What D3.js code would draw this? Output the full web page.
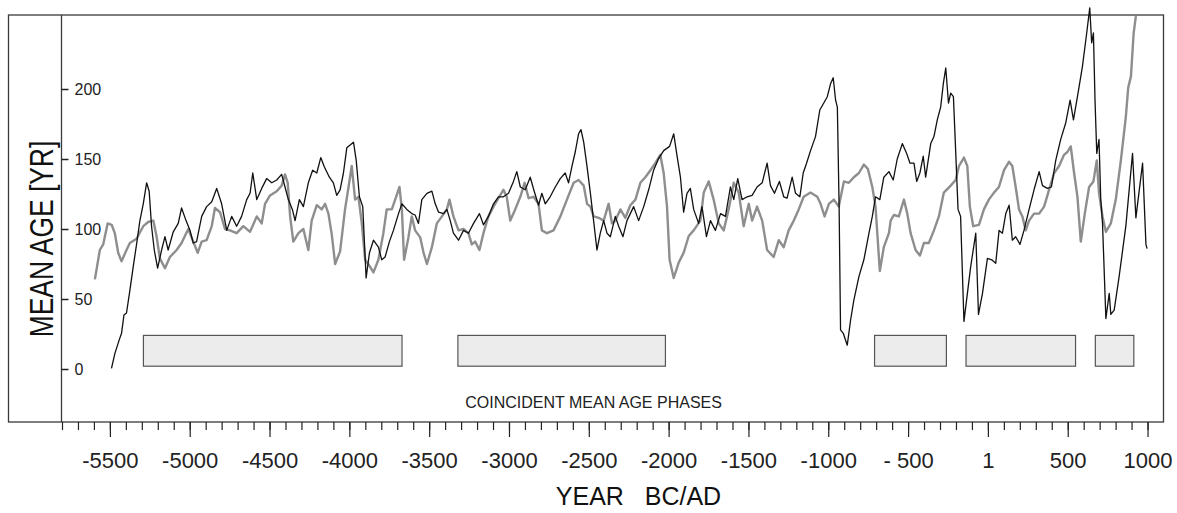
<!DOCTYPE html>
<html>
<head>
<meta charset="utf-8">
<script src="https://cdn.jsdelivr.net/npm/d3@7"></script>
<style>
  body { margin: 0; background: #fff; }
  svg { display: block; font-family: "Liberation Sans", Arial, sans-serif; }
</style>
</head>
<body>
<div id="chart"></div>
<script>
// Grey series (years BC/AD, mean age in years)
const grayYears = [-5594, -5563, -5542, -5514, -5489, -5469, -5448, -5427, -5396, -5375, -5333, -5291, -5260, -5228, -5208, -5187, -5155, -5124, -5082, -5051,
  -5009, -4978, -4950, -4925, -4894, -4862, -4842, -4810, -4779, -4748, -4706, -4664, -4622, -4580, -4549, -4528, -4497, -4455, -4424, -4403,
  -4386, -4371, -4351, -4319, -4288, -4257, -4236, -4204, -4173, -4152, -4131, -4110, -4089, -4058, -4027, -4005, -3985, -3964, -3943, -3922,
  -3901, -3870, -3849, -3818, -3787, -3766, -3734, -3713, -3686, -3671, -3657, -3630, -3609, -3588, -3556, -3535, -3514, -3483, -3452, -3420,
  -3389, -3373, -3348, -3316, -3285, -3254, -3233, -3212, -3185, -3160, -3129, -3097, -3066, -3035, -3014, -2992, -2961, -2929, -2902, -2877,
  -2846, -2815, -2794, -2762, -2721, -2678, -2637, -2595, -2564, -2532, -2511, -2490, -2470, -2438, -2407, -2376, -2355, -2334, -2302, -2271,
  -2240, -2208, -2177, -2146, -2114, -2083, -2052, -2031, -2010, -1994, -1968, -1937, -1906, -1874, -1843, -1801, -1780, -1749, -1718, -1686,
  -1655, -1624, -1592, -1561, -1530, -1498, -1477, -1446, -1414, -1383, -1342, -1310, -1279, -1248, -1216, -1185, -1154, -1111, -1069, -1048,
  -1023, -996, -965, -934, -902, -871, -840, -808, -777, -752, -724, -704, -677, -652, -620, -609, -589, -558, -526, -505,
  -484, -453, -426, -401, -370, -338, -307, -276, -233, -202, -181, -150, -129, -113, -92, -56, -25, 6, 38, 69,
  101, 132, 153, 174, 195, 216, 237, 258, 289, 321, 352, 383, 415, 446, 477, 498, 519, 540, 561, 582,
  607, 634, 661, 682, 696, 718, 739, 770, 801, 833, 864, 879, 896, 913, 927];
const grayAge = [64, 85, 89, 104, 103, 97, 83, 77, 85, 90, 93, 102, 105, 106, 95, 79, 72, 80, 85, 90,
  100, 91, 83, 91, 92, 102, 115, 112, 100, 99, 97, 102, 98, 109, 104, 118, 124, 127, 131, 139,
  133, 109, 91, 97, 100, 85, 106, 117, 114, 118, 111, 96, 75, 84, 114, 130, 145, 121, 123, 104,
  78, 73, 69, 78, 97, 114, 114, 121, 130, 114, 78, 94, 109, 99, 94, 83, 75, 87, 104, 109,
  114, 121, 109, 99, 100, 97, 89, 91, 85, 97, 109, 116, 122, 128, 123, 106, 114, 123, 133, 122,
  123, 118, 99, 97, 99, 109, 121, 133, 135, 131, 118, 116, 109, 108, 106, 118, 104, 106, 114, 108,
  117, 121, 133, 137, 142, 147, 153, 140, 116, 78, 65, 76, 83, 95, 99, 106, 126, 134, 121, 104,
  99, 114, 133, 126, 102, 118, 106, 116, 106, 85, 80, 92, 87, 99, 106, 114, 123, 126, 123, 118,
  109, 118, 121, 116, 134, 133, 137, 140, 146, 143, 130, 116, 70, 87, 97, 106, 110, 109, 121, 111,
  97, 85, 81, 90, 90, 99, 109, 126, 131, 135, 145, 151, 145, 116, 102, 103, 114, 121, 126, 130,
  142, 148, 145, 130, 114, 109, 99, 106, 111, 111, 116, 128, 140, 145, 153, 155, 159, 140, 123, 91,
  111, 130, 134, 149, 126, 109, 98, 104, 121, 149, 180, 201, 209, 240, 252];

// Black series (years BC/AD, mean age in years)
const blackYears = [-5490, -5469, -5441, -5427, -5412, -5396, -5375, -5354, -5333, -5312, -5291, -5270, -5254, -5239, -5222, -5201, -5176, -5155, -5135, -5103,
  -5072, -5051, -5023, -4998, -4978, -4957, -4925, -4894, -4862, -4831, -4800, -4768, -4737, -4706, -4675, -4643, -4622, -4605, -4580, -4549,
  -4518, -4486, -4455, -4424, -4403, -4382, -4357, -4340, -4313, -4288, -4257, -4230, -4204, -4179, -4157, -4125, -4100, -4079, -4058, -4037,
  -4016, -3995, -3974, -3957, -3937, -3916, -3895, -3874, -3849, -3818, -3797, -3776, -3749, -3724, -3692, -3671, -3640, -3609, -3588, -3567,
  -3546, -3514, -3483, -3462, -3441, -3410, -3389, -3368, -3348, -3316, -3285, -3254, -3222, -3185, -3160, -3129, -3097, -3066, -3035, -3003,
  -2972, -2951, -2929, -2898, -2867, -2842, -2815, -2794, -2773, -2742, -2710, -2679, -2648, -2627, -2606, -2585, -2564, -2549, -2532, -2511,
  -2490, -2470, -2449, -2428, -2407, -2386, -2365, -2334, -2313, -2286, -2261, -2240, -2219, -2188, -2156, -2125, -2094, -2062, -2031, -1994,
  -1968, -1947, -1926, -1906, -1885, -1864, -1843, -1812, -1791, -1763, -1738, -1707, -1675, -1644, -1613, -1592, -1567, -1540, -1508, -1477,
  -1446, -1414, -1383, -1362, -1337, -1306, -1279, -1258, -1226, -1205, -1178, -1157, -1136, -1111, -1080, -1053, -1028, -1006, -985, -969,
  -954, -943, -932, -923, -906, -881, -860, -840, -808, -777, -745, -724, -704, -677, -652, -620, -593, -568, -536, -509,
  -488, -463, -446, -426, -405, -390, -358, -338, -317, -296, -279, -264, -247, -233, -216, -202, -187, -171, -150, -108,
  -76, -59, -34, -3, 24, 49, 70, 91, 112, 133, 153, 174, 201, 226, 258, 289, 321, 342, 373, 398,
  425, 456, 487, 515, 536, 561, 592, 619, 638, 650, 661, 671, 682, 696, 707, 718, 739, 760, 770, 791,
  822, 864, 906, 927, 969, 990, 997];
const blackAge = [0.5, 11, 21, 25.5, 38.6, 40, 56, 73, 89, 106, 118, 133, 127, 102, 85, 72, 85, 94.5, 85, 98,
  104, 115, 106, 99, 90, 91, 109, 116, 119.5, 129, 118, 99, 109, 102, 109, 121, 125.5, 140, 121, 129,
  136, 133, 135, 139, 130, 121, 114, 106, 121, 116, 133, 142, 140, 151, 144.5, 137, 133, 124, 128, 140,
  158, 160, 162, 149, 123, 116, 65, 83, 92, 87, 78, 80, 91, 99, 111, 118, 114, 111, 110, 104,
  121, 125.5, 127, 118, 112, 111, 114, 106, 97, 92, 99, 97, 104, 111, 103, 109, 118, 123, 123, 125.5,
  134, 141, 130, 128, 137, 127, 117, 125.5, 118, 123, 130, 136, 140, 133, 144.5, 155, 168, 171, 162, 144.5,
  125.5, 106, 85, 97, 106, 97, 94.5, 109, 102, 94.5, 106, 111, 116, 106, 116, 128, 142, 150.5, 156, 159,
  168, 152, 137, 112, 125.5, 129, 114, 104, 116, 94.5, 106, 99, 111, 109, 130, 121, 136, 121, 123, 124,
  130, 133, 147, 131, 125.5, 134, 123, 122, 137, 125.5, 123, 140, 147, 156, 166, 185, 190, 194.5, 204, 208,
  192, 187, 116, 28, 25.5, 17, 35, 49, 66, 78, 97, 109, 123, 121, 137, 141, 135, 150, 161, 154,
  147, 147, 134, 140, 152, 137, 161, 166, 178, 187, 204, 215, 190, 197, 194.5, 156, 114, 109, 34, 73,
  97, 39, 54, 79, 78, 75.5, 99, 97, 111, 117, 92, 94.5, 89, 99, 114, 128, 141, 131, 129, 130,
  149, 164, 175.5, 192, 178, 194.5, 216, 240, 258, 233, 240, 192, 154, 164, 121, 104, 36, 54, 39, 42,
  66, 102, 154, 108, 147, 89, 86];

// Coincident mean age phases
const phaseStart = [-5290, -3320, -710, -137, 673];
const phaseEnd = [-3670, -2020, -260, 549, 914];
const phaseLow = 2;
const phaseHigh = 24;

// Axis ticks and labels
const yTicks = [0, 50, 100, 150, 200];
const xMajorTicks = [-5500, -5000, -4500, -4000, -3500, -3000, -2500, -2000, -1500, -1000, -500, 0, 500, 1000];
const xTickLabels = ["-5500", "-5000", "-4500", "-4000", "-3500", "-3000", "-2500", "-2000", "-1500", "-1000", "- 500", "1", "500", "1000"];

const width = 1177;
const height = 513;
const frameLeft = 8.5;
const frameTop = 15;
const frameBottom = 422;
const axisX = 61.5;

// Scales
const xScale = d3.scaleLinear().domain([-5800, 1100]).range([62, 1163.5]);
const yScale = d3.scaleLinear().domain([0, 200]).range([369, 89]);

const svg = d3.select("#chart")
  .append("svg")
  .attr("width", width)
  .attr("height", height);

// Outer frame
svg.append("rect")
  .attr("x", frameLeft)
  .attr("y", frameTop)
  .attr("width", xScale(1100) - frameLeft)
  .attr("height", frameBottom - frameTop)
  .attr("fill", "none")
  .attr("stroke", "#3a3a3a")
  .attr("stroke-width", 1.3);

// Left axis line
svg.append("line")
  .attr("x1", axisX).attr("x2", axisX)
  .attr("y1", frameTop).attr("y2", frameBottom)
  .attr("stroke", "#3a3a3a")
  .attr("stroke-width", 1.3);

// Y axis ticks
const yAxis = svg.append("g")
  .attr("transform", `translate(${axisX},0)`)
  .call(d3.axisRight(yScale).tickValues(yTicks).tickSize(7).tickPadding(6));
yAxis.select(".domain").remove();
yAxis.selectAll("line").attr("stroke", "#222").attr("stroke-width", 1.5);
yAxis.selectAll("text").attr("fill", "#222").style("font-size", "16px");

// X axis: minor ticks every 100 years
const xMinor = svg.append("g")
  .attr("transform", `translate(0,${frameBottom})`)
  .call(d3.axisBottom(xScale).tickValues(d3.range(-5800, 1001, 100)).tickSize(8).tickFormat(""));
xMinor.select(".domain").remove();
xMinor.selectAll("line").attr("stroke", "#222").attr("stroke-width", 1.2);

// X axis: major ticks with labels
const xMajor = svg.append("g")
  .attr("transform", `translate(0,${frameBottom})`)
  .call(d3.axisBottom(xScale).tickValues(xMajorTicks).tickSize(15).tickPadding(15)
    .tickFormat((d, i) => xTickLabels[i]));
xMajor.select(".domain").remove();
xMajor.selectAll("line").attr("stroke", "#222").attr("stroke-width", 1.2);
xMajor.selectAll("text").attr("fill", "#222").style("font-size", "22px").style("white-space", "pre");

// Phase bars
svg.append("g")
  .selectAll("rect")
  .data(phaseStart)
  .join("rect")
  .attr("x", (d) => xScale(d))
  .attr("y", yScale(phaseHigh))
  .attr("width", (d, i) => xScale(phaseEnd[i]) - xScale(d))
  .attr("height", yScale(phaseLow) - yScale(phaseHigh))
  .attr("fill", "#ececec")
  .attr("stroke", "#555")
  .attr("stroke-width", 1.2);

svg.append("text")
  .attr("x", xScale(-2470))
  .attr("y", 408)
  .attr("text-anchor", "middle")
  .attr("fill", "#222")
  .style("font-size", "16px")
  .text("COINCIDENT MEAN AGE PHASES");

// Lines
const line = d3.line()
  .x((d) => xScale(d[0]))
  .y((d) => yScale(d[1]));

svg.append("path")
  .datum(d3.zip(grayYears, grayAge))
  .attr("fill", "none")
  .attr("stroke", "#8e8e8e")
  .attr("stroke-width", 2.4)
  .attr("stroke-linejoin", "round")
  .attr("d", line);

svg.append("path")
  .datum(d3.zip(blackYears, blackAge))
  .attr("fill", "none")
  .attr("stroke", "#111")
  .attr("stroke-width", 1.3)
  .attr("stroke-linejoin", "round")
  .attr("d", line);

// Axis titles
svg.append("text")
  .attr("transform", "translate(52.5,239) rotate(-90) scale(0.8,1)")
  .attr("text-anchor", "middle")
  .attr("fill", "#111")
  .style("font-size", "33px")
  .text("MEAN AGE [YR]");

svg.append("text")
  .attr("x", 638.5)
  .attr("y", 505)
  .attr("text-anchor", "middle")
  .attr("fill", "#111")
  .style("font-size", "25px")
  .style("white-space", "pre")
  .text("YEAR   BC/AD");
</script>
</body>
</html>
